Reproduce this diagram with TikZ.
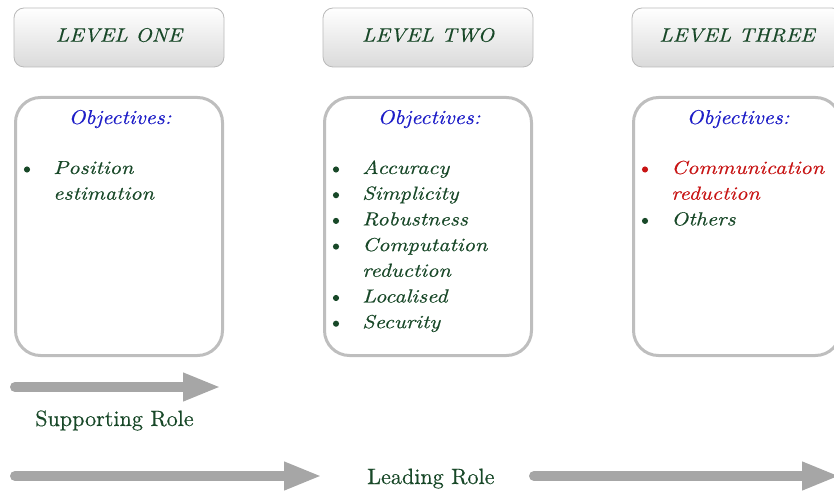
\documentclass[tikz,border=0pt]{standalone}
\usepackage{fontspec}
\newfontfamily\lmit{lmroman10-italic}[Extension=.otf, FakeBold=0.35]
\newfontfamily\lmrm{lmroman10-regular}[Extension=.otf, FakeBold=0.35]
\usetikzlibrary{arrows.meta}
\definecolor{tgreen}{RGB}{24,72,40}
\definecolor{tblue}{RGB}{30,30,200}
\definecolor{tred}{RGB}{200,20,20}
\definecolor{boxgray}{RGB}{190,190,190}
\definecolor{hdrborder}{RGB}{185,185,185}
\definecolor{hdrbottom}{RGB}{218,218,218}
\definecolor{arrowgray}{RGB}{166,166,166}
\newcommand{\sx}[1]{\scalebox{1.17}[1]{#1}}
\newcommand{\hx}[1]{\scalebox{1.10}[1]{#1}}
\begin{document}
\begin{tikzpicture}[x=0.75pt,y=-0.75pt,
  hdr/.style={draw=hdrborder, line width=0.6pt, rounded corners=7.5pt, top color=white, bottom color=hdrbottom, minimum width=157.5pt, minimum height=44.25pt, inner sep=0pt},
  objbox/.style={draw=boxgray, line width=2.25pt, rounded corners=18.75pt, fill=white, minimum width=155.25pt, minimum height=193.5pt, inner sep=0pt},
  hdrtext/.style={anchor=base, inner sep=0pt, text=tgreen, font=\fontsize{14.6}{17}\lmit},
  objtext/.style={anchor=base, inner sep=0pt, text=tblue, font=\fontsize{15}{17}\lmit},
  item/.style={anchor=base west, inner sep=0pt, text=tgreen, font=\fontsize{14.2}{17}\lmit},
  dot/.style={circle, fill=tgreen, inner sep=0pt, minimum size=4.6pt},
  role/.style={anchor=base west, inner sep=0pt, text=tgreen, font=\fontsize{16.6}{20}\lmrm},
  bigarrow/.style={line width=7.5pt, draw=arrowgray, line cap=round, -{Triangle[length=28.5pt,width=19.5pt]}}
]
\useasboundingbox (0,0) rectangle (834,491);

% headers
\node[hdr] (h1) at (119,37.5) {};
\node[hdr] (h2) at (428,37.5) {};
\node[hdr] (h3) at (737,37.5) {};
\node[hdrtext] (h1t) at (119,41.7) {\hx{LEVEL ONE}};
\node[hdrtext] (h2t) at (428,41.7) {\hx{LEVEL TWO}};
\node[hdrtext] (h3t) at (737,41.7) {\hx{LEVEL THREE}};

% objective boxes
\node[objbox] (b1) at (119,226.5) {};
\node[objbox] (b2) at (428,226.5) {};
\node[objbox] (b3) at (737,226.5) {};
\node[objtext] (o1) at (120,124) {\hx{Objectives:}};
\node[objtext] (o2) at (429,124) {\hx{Objectives:}};
\node[objtext] (o3) at (738,124) {\hx{Objectives:}};

% box 1 items
\node[dot] (d11) at (27,169.5) {};
\node[item] (i11) at (53,174) {\sx{Position}};
\node[item] (i12) at (53,199.7) {\sx{estimation}};

% box 2 items
\node[dot] (d21) at (336,169.5) {};
\node[item] (i21) at (362,174) {\sx{Accuracy}};
\node[dot] (d22) at (336,195.2) {};
\node[item] (i22) at (362,199.7) {\sx{Simplicity}};
\node[dot] (d23) at (336,220.9) {};
\node[item] (i23) at (362,225.4) {\sx{Robustness}};
\node[dot] (d24) at (336,246.6) {};
\node[item] (i24) at (362,251.1) {\sx{Computation}};
\node[item] (i25) at (362,276.8) {\sx{reduction}};
\node[dot] (d26) at (336,298) {};
\node[item] (i26) at (362,302.5) {\sx{Localised}};
\node[dot] (d27) at (336,323.7) {};
\node[item] (i27) at (362,328.2) {\sx{Security}};

% box 3 items
\node[dot, fill=tred] (d31) at (645,169.5) {};
\node[item, text=tred] (i31) at (671,174) {\sx{Communication}};
\node[item, text=tred] (i32) at (671,199.7) {\sx{reduction}};
\node[dot] (d33) at (645,220.9) {};
\node[item] (i33) at (671,225.4) {\sx{Others}};

% arrows
\coordinate (a1s) at (15,387);
\coordinate (a1e) at (221,387);
\draw[bigarrow] (a1s) -- (a1e);
\node[role] (sr) at (35,426) {Supporting Role};

\coordinate (a2s) at (15,476);
\coordinate (a2e) at (322,476);
\draw[bigarrow] (a2s) -- (a2e);
\node[role] (lr) at (367,484) {Leading Role};
\coordinate (a3s) at (534,476);
\coordinate (a3e) at (840,476);
\draw[bigarrow] (a3s) -- (a3e);
\end{tikzpicture}
\end{document}
